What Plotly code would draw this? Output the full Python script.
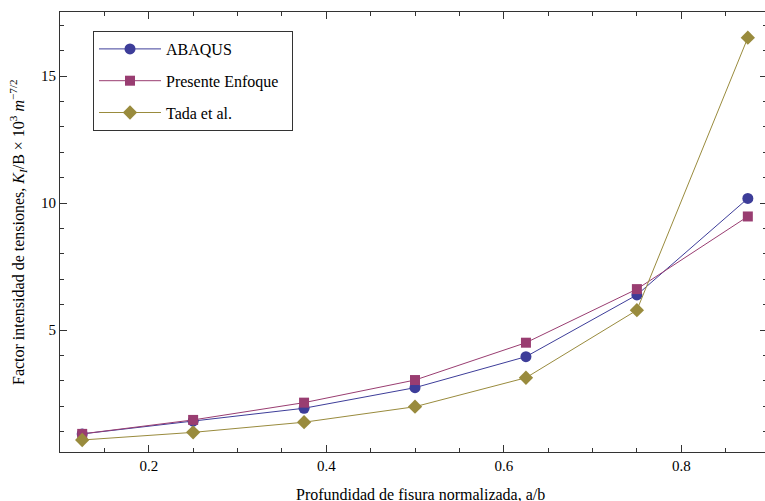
import plotly.graph_objects as go

# Data
depth = [0.125, 0.25, 0.375, 0.5, 0.625, 0.75, 0.875]
abaqus = [0.91, 1.41, 1.92, 2.73, 3.95, 6.38, 10.18]
presente = [0.91, 1.46, 2.14, 3.03, 4.50, 6.61, 9.47]
tada = [0.67, 0.97, 1.37, 1.98, 3.12, 5.78, 16.51]

series_names = ["ABAQUS", "Presente Enfoque\u00a0\u00a0", "Tada et al."]
colors = ["#3d3d99", "#993d71", "#998b3d"]
symbols = ["circle", "square", "diamond"]
msizes = [11, 10, 11]

FONT = "'Liberation Serif', 'Times New Roman', Times, serif"
# Figure is 2px wider than the window so the right frame edge falls just outside, as in the reference
W, H = 767, 501
L, R, T, B = 60, 0, 12, 49
pw, ph = W - L - R, H - T - B


def px_x(p):  # page pixel x -> paper x
    return (p - L) / pw


def px_y(p):  # page pixel y -> paper y
    return (H - B - p) / ph


fig = go.Figure()
for i, (name, ys) in enumerate(zip(series_names, [abaqus, presente, tada])):
    fig.add_trace(go.Scatter(
        x=depth, y=ys, mode="lines+markers", name=name,
        legendgroup=f"g{i}",
        line=dict(color=colors[i], width=1),
        marker=dict(symbol=symbols[i], size=msizes[i], color=colors[i],
                    line=dict(width=0)),
    ))

axis_common = dict(
    showgrid=False, zeroline=False, showline=True, linecolor="#333333",
    linewidth=1, mirror="ticks", ticks="inside", tickcolor="#333333",
    ticklen=7, tickwidth=1,
    tickfont=dict(family=FONT, size=15, color="black"),
)

fig.update_layout(
    width=W, height=H,
    margin=dict(l=L, r=R, t=T, b=B),
    paper_bgcolor="white", plot_bgcolor="white",
    font=dict(family=FONT, size=16, color="black"),
    xaxis=dict(range=[0.100, 0.8966], tickvals=[0.2, 0.4, 0.6, 0.8],
               ticktext=["0.2", "0.4", "0.6", "0.8"],
               minor=dict(dtick=0.05, tick0=0, ticks="inside", ticklen=4,
                          tickcolor="#333333"),
               **axis_common),
    yaxis=dict(range=[0.197, 17.52], tickvals=[5, 10, 15],
               minor=dict(dtick=1, tick0=0, ticks="inside", ticklen=4,
                          tickcolor="#333333"),
               **axis_common),
    showlegend=True,
    legend=dict(
        x=px_x(93), y=px_y(31), xanchor="left", yanchor="top",
        bordercolor="#333333", borderwidth=1, bgcolor="white",
        font=dict(family=FONT, size=16, color="black"),
        itemwidth=62, tracegroupgap=8,
    ),
    annotations=[
        dict(text="Factor intensidad de tensiones, <i>K</i><sub><i>I</i></sub>/B × 10<sup>3</sup> <i>m</i><sup>−7/2</sup>",
             xref="paper", yref="paper", x=px_x(18), y=0.5,
             xanchor="center", yanchor="middle", textangle=-90,
             showarrow=False, font=dict(family=FONT, size=16, color="black")),
        dict(text="Profundidad de fisura normalizada, a/b",
             xref="paper", yref="paper", x=px_x(420), y=px_y(494),
             xanchor="center", yanchor="middle",
             showarrow=False, font=dict(family=FONT, size=16, color="black")),
    ],
)

fig.write_html(
    "out.html",
    config={"displayModeBar": False},
    post_script="document.body.style.margin='0px';document.body.style.overflow='hidden';",
)
